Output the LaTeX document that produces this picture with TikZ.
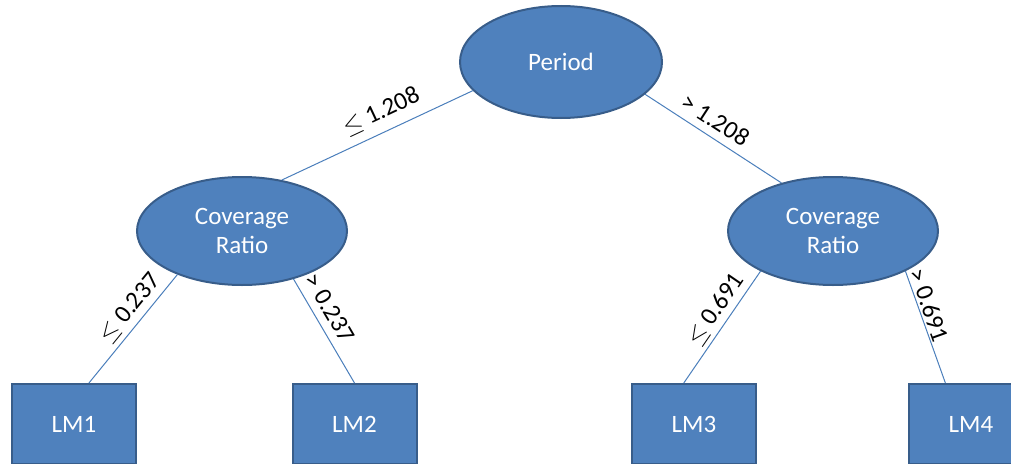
\documentclass[tikz,border=0pt]{standalone}
\usepackage{fontspec}
\setmainfont{Carlito}
\usetikzlibrary{shapes.geometric}
\definecolor{nodefill}{HTML}{4F81BD}
\definecolor{nodeline}{HTML}{385D8A}
\definecolor{linkcol}{HTML}{4A7EBB}
\newcommand{\lessorequal}{\ensuremath{\leq}}
\tikzset{
  splitnode/.style={ellipse, draw=nodeline, line width=2pt, fill=nodefill,
    text=white, inner sep=0pt, minimum width=#1, align=center,
    font=\fontsize{25}{29}\selectfont},
  splitnode/.default=210pt,
  leafnode/.style={rectangle, draw=nodeline, line width=2pt, fill=nodefill,
    text=white, minimum width=124pt, minimum height=80pt, inner sep=0pt,
    font=\fontsize{25}{29}\selectfont},
  link/.style={draw=linkcol, line width=1pt},
  cut/.style={sloped, above, inner sep=4pt, text=black,
    font=\fontsize{25}{29}\selectfont}
}
\begin{document}
\begin{tikzpicture}[x=1pt, y=-1pt]
  \useasboundingbox (0,0) rectangle (1011,463);

  % split nodes
  \node[splitnode=202pt, minimum height=112pt] (period) at (561,62) {Period};
  \node[splitnode, minimum height=108pt] (crl) at (242,231) {Coverage\\Ratio};
  \node[splitnode, minimum height=108pt] (crr) at (833,231) {Coverage\\Ratio};

  % leaf models
  \node[leafnode] (lm1) at (74,424) {LM1};
  \node[leafnode] (lm2) at (354.5,424) {LM2};
  \node[leafnode] (lm3) at (694,424) {LM3};
  \node[leafnode] (lm4) at (971,424) {LM4};

  % branches with their split values
  \draw[link] (period.198) -- node[cut, pos=0.435, inner sep=9pt] {\lessorequal{} 1.208} (crl.52);
  \draw[link] (period.-21) -- node[cut, pos=0.45, inner sep=8pt] {> 1.208} (crr.137);
  \draw[link] (crl.214) -- node[cut, pos=0.4, inner sep=5pt] {\lessorequal{} 0.237} (lm1.70);
  \draw[link] (crl.-43) -- node[cut, pos=0.36, inner sep=8pt] {> 0.237} (lm2.north);
  \draw[link] (crr.209) -- node[cut, pos=0.42, inner sep=4pt] {\lessorequal{} 0.691} (lm3.104);
  \draw[link] (crr.-29) -- node[cut, pos=0.34, inner sep=2pt] {> 0.691} (lm4.122);
\end{tikzpicture}
\end{document}
